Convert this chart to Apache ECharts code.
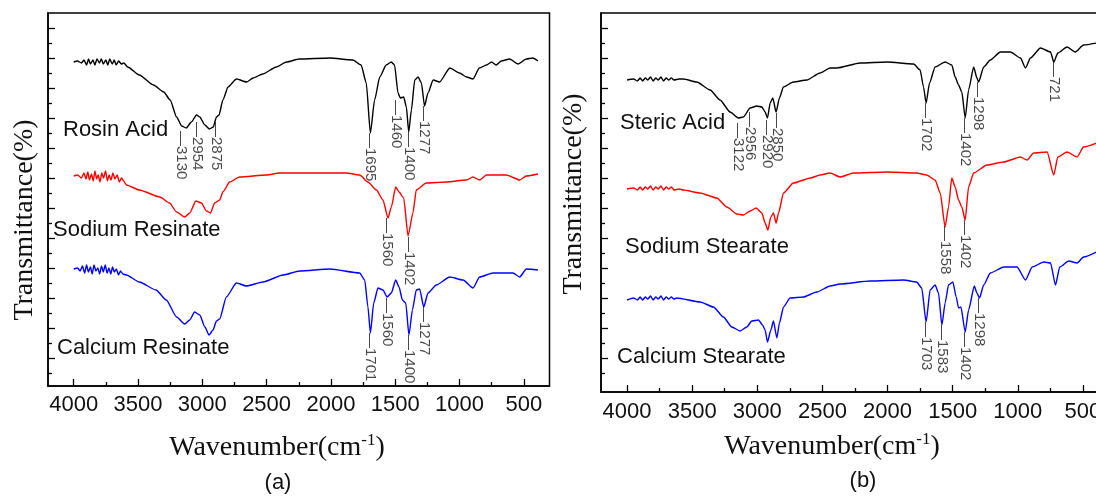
<!DOCTYPE html>
<html>
<head>
<meta charset="utf-8">
<script src="https://cdn.jsdelivr.net/npm/echarts@6/dist/echarts.min.js"></script>
<style>
html, body { margin: 0; padding: 0; background: #fff; }
#main { width: 1096px; height: 497px; }
</style>
</head>
<body>
<div id="main"></div>
<script>
// FTIR spectra, [wavenumber, transmittance (arb. offset units)]
// panel (a)
const rosinAcid = [[4000,324],[3970,325],[3940,323],[3920,326],[3900,321],[3885,327],[3870,322],[3850,326],[3835,321],[3820,327],[3800,323],[3785,327],[3770,322],[3750,326],[3735,321],[3720,327],[3700,322],[3685,326],[3670,321],[3650,325],[3630,322],[3610,323],
  [3580,319],[3490,311],[3380,301],[3300,294],[3250,286],[3200,269],[3160,260],[3125,258],[3085,264],[3045,271],[3020,269],[2980,261],[2945,257],[2915,259],[2890,269],[2870,271],[2840,286],[2800,299],[2735,307],[2655,304],[2605,308],[2530,312],[2425,319],[2345,324],[2245,327],[2010,328],[1830,326],[1765,321],[1725,303],[1693,253],[1660,286],[1620,309],[1570,321],[1530,324],[1505,321],[1478,293],[1460,288],[1434,289],[1413,279],[1395,254],[1374,276],[1348,306],[1322,309],[1296,303],[1272,280],[1245,293],[1205,306],[1155,304],[1075,318],[1000,313],[945,309],[895,307],[845,318],[790,321],[750,324],[715,321],[675,325],[610,327],[545,322],[480,327],[430,328],[390,325]];
const sodiumResinate = [[4000,210],[3970,211],[3940,208],[3920,213],[3905,207],[3890,214],[3878,206],[3862,212],[3848,205],[3835,215],[3822,207],[3810,211],[3795,204],[3782,213],[3768,208],[3752,215],[3738,205],[3725,211],[3710,206],[3695,213],[3680,207],[3662,211],[3645,204],[3628,208],[3612,205],
  [3590,201],[3490,196],[3330,189],[3255,183],[3200,174],[3137,169],[3098,173],[3050,185],[3007,183],[2968,175],[2937,173],[2904,183],[2865,186],[2840,194],[2787,204],[2710,209],[2500,211],[2400,213],[2245,213],[2140,213],[1880,213],[1776,211],[1712,204],[1646,196],[1595,186],[1556,168],[1530,179],[1496,199],[1470,194],[1434,188],[1400,150],[1362,173],[1336,196],[1258,203],[1103,204],[946,206],[895,209],[843,206],[791,211],[635,211],[532,206],[480,210],[390,212]];
const calciumResinate = [[4000,117],[3970,118],[3950,115],[3932,120],[3915,113],[3900,121],[3886,114],[3870,119],[3856,112],[3842,121],[3828,115],[3812,118],[3798,112],[3784,120],[3770,114],[3755,121],[3740,113],[3726,118],[3712,112],[3698,119],[3684,114],[3668,117],[3652,111],[3636,115],[3618,112],
  [3590,111],[3490,104],[3360,96],[3280,86],[3200,69],[3137,62],[3098,66],[3060,74],[3020,71],[2980,59],[2948,51],[2917,56],[2890,65],[2865,67],[2813,89],[2735,103],[2657,100],[2528,104],[2372,111],[2243,115],[2009,117],[1776,113],[1737,106],[1712,79],[1693,53],[1667,83],[1634,98],[1595,96],[1563,89],[1530,93],[1496,106],[1470,99],[1444,86],[1418,83],[1393,51],[1366,76],[1336,96],[1310,97],[1278,79],[1245,93],[1180,101],[1076,109],[972,106],[895,98],[843,109],[739,113],[584,113],[532,109],[480,117],[390,116]];
const peaksA = [[3163,255,'3130'],[3038,264,'2954'],[2890,264,'2875'],[1693,253,'1695'],[1491,286,'1460'],[1393,254,'1400'],[1271,280,'1277'],
  [1564,168,'1560'],[1393,149,'1402'],
  [1693,53,'1701'],[1564,88,'1560'],[1393,51,'1400'],[1278,79,'1277']];

// panel (b)
const stericAcid = [[4000,312],[3950,313],[3920,311],[3900,314],[3880,311],[3860,314],[3840,312],[3820,315],[3800,311],[3780,314],[3760,312],[3740,315],[3720,311],[3700,314],[3680,312],[3660,314],[3640,312],[3600,313],
  [3568,313],[3465,310],[3362,302],[3286,292],[3209,280],[3145,274],[3107,275],[3055,284],[3004,286],[2965,285],[2940,280],[2922,274],[2901,289],[2881,294],[2856,280],[2830,294],[2800,305],[2723,310],[2620,312],[2518,319],[2441,324],[2390,324],[2210,329],[2005,330],[1800,328],[1750,322],[1724,305],[1704,289],[1678,309],[1635,325],[1558,330],[1507,327],[1481,315],[1455,307],[1430,300],[1404,274],[1378,302],[1339,325],[1314,314],[1301,310],[1262,325],[1211,332],[1134,340],[1057,340],[980,334],[941,324],[903,334],[826,344],[749,340],[724,330],[693,339],[622,345],[559,340],[495,347],[396,349]];
const sodiumStearate = [[4000,203],[3950,204],[3920,202],[3900,205],[3880,202],[3860,205],[3840,203],[3820,206],[3800,202],[3780,205],[3760,203],[3740,206],[3720,202],[3700,205],[3680,203],[3660,205],[3640,202],[3600,203],
  [3568,202],[3439,199],[3311,194],[3234,185],[3157,178],[3107,177],[3055,181],[3009,184],[2965,179],[2940,169],[2919,162],[2896,175],[2876,179],[2856,169],[2837,179],[2799,199],[2723,209],[2592,214],[2518,217],[2441,219],[2364,215],[2262,219],[2005,220],[1777,219],[1700,217],[1635,212],[1596,199],[1558,165],[1532,185],[1507,214],[1481,205],[1455,192],[1430,185],[1404,172],[1378,205],[1339,219],[1237,227],[1108,230],[980,235],[929,232],[878,239],[775,240],[724,217],[693,235],[622,240],[545,235],[495,245],[396,249]];
const calciumStearate = [[4000,92],[3950,94],[3920,92],[3900,95],[3880,92],[3860,95],[3840,93],[3820,96],[3800,92],[3780,95],[3760,93],[3740,96],[3720,92],[3700,95],[3680,93],[3660,95],[3640,93],
  [3618,94],[3439,90],[3337,85],[3260,75],[3196,65],[3132,61],[3081,65],[3042,71],[2991,72],[2960,67],[2940,62],[2922,50],[2896,62],[2876,71],[2850,54],[2830,69],[2799,85],[2748,94],[2646,95],[2543,100],[2441,106],[2364,108],[2133,111],[1877,112],[1777,110],[1738,104],[1704,70],[1673,102],[1635,107],[1609,99],[1583,67],[1558,89],[1532,107],[1499,110],[1473,95],[1455,84],[1437,85],[1404,60],[1378,82],[1334,106],[1314,99],[1294,94],[1262,107],[1211,119],[1108,125],[1006,125],[941,112],[890,125],[800,130],[749,129],[711,107],[678,125],[609,131],[545,129],[495,135],[396,140]];
const peaksB = [[3145,269,'3122'],[3055,280,'2956'],[2922,272,'2920'],[2850,279,'2850'],[1704,289,'1702'],[1404,274,'1402'],[1302,310,'1298'],[724,330,'721'],
  [1558,166,'1558'],[1404,172,'1402'],
  [1704,70,'1703'],[1583,67,'1583'],[1404,60,'1402'],[1294,94,'1298']];

// ticks
const xMajorTicks = [4000, 3500, 3000, 2500, 2000, 1500, 1000, 500];
const xMinorTicks = [3750, 3250, 2750, 2250, 1750, 1250, 750];
const yMajorTicksA = [28, 58, 88, 118, 148, 178, 208, 238, 268, 298, 328, 358];
const yMinorTicksA = [13, 43, 73, 103, 133, 163, 193, 223, 253, 283, 313, 343];
const yMajorTicksB = [34, 64, 94, 124, 154, 184, 214, 244, 274, 304, 334, 364];
const yMinorTicksB = [19, 49, 79, 109, 139, 169, 199, 229, 259, 289, 319, 349];

const SANS = 'Liberation Sans';
const SERIF = 'Liberation Serif';

function xAxes(grid, labelMargin) {
    return [
        {
            gridIndex: grid, type: 'value', position: 'bottom', min: 300, max: 4200, inverse: true,
            axisLine: { show: true, onZero: false, lineStyle: { color: '#000', width: 1.5 } },
            axisTick: { show: true, inside: true, length: 7, customValues: xMajorTicks, lineStyle: { color: '#000', width: 1.3 } },
            axisLabel: { customValues: xMajorTicks, formatter: v => String(v), fontSize: 22, fontFamily: SANS, color: '#111', margin: labelMargin },
            splitLine: { show: false }
        },
        {
            gridIndex: grid, type: 'value', position: 'bottom', min: 300, max: 4200, inverse: true,
            axisLine: { show: false },
            axisTick: { show: true, inside: true, length: 4, customValues: xMinorTicks, lineStyle: { color: '#000', width: 1.3 } },
            axisLabel: { show: false },
            splitLine: { show: false }
        }
    ];
}

function yAxes(grid, max, major, minor) {
    return [
        {
            gridIndex: grid, type: 'value', position: 'left', min: 0, max: max,
            axisLine: { show: true, onZero: false, lineStyle: { color: '#000', width: 1.5 } },
            axisTick: { show: true, inside: true, length: 7, customValues: major, lineStyle: { color: '#000', width: 1.3 } },
            axisLabel: { show: false },
            splitLine: { show: false }
        },
        {
            gridIndex: grid, type: 'value', position: 'left', min: 0, max: max,
            axisLine: { show: false },
            axisTick: { show: true, inside: true, length: 4, customValues: minor, lineStyle: { color: '#000', width: 1.3 } },
            axisLabel: { show: false },
            splitLine: { show: false }
        }
    ];
}

function spectrum(data, color, axis) {
    return {
        type: 'line', data: data, xAxisIndex: axis, yAxisIndex: axis,
        showSymbol: false, smooth: 0.2, smoothMonotone: 'x',
        lineStyle: { color: color, width: 1.4 }, silent: true
    };
}

function peakLabels(data, axis) {
    return {
        type: 'scatter', data: data, xAxisIndex: axis, yAxisIndex: axis,
        symbolSize: 0, silent: true, z: 5,
        label: {
            show: true, position: 'inside', rotate: -90, align: 'left', verticalAlign: 'middle',
            formatter: p => '\u2014' + p.data[2],
            fontSize: 15, fontFamily: SANS, color: '#1a1a1a'
        }
    };
}

function txt(x, y, text, font, align, rotation) {
    return {
        type: 'text', x: x, y: y, rotation: rotation || 0, silent: true,
        style: { text: text, font: font, fill: '#111', align: align || 'left', verticalAlign: 'middle' }
    };
}

function xName(x, y) {
    return {
        type: 'text', x: x, y: y, silent: true,
        style: {
            text: '{n|Wavenumber(cm}{s|-1}{n|)}', align: 'center', verticalAlign: 'middle', fill: '#111',
            rich: {
                n: { fontFamily: SERIF, fontSize: 28, fill: '#111' },
                s: { fontFamily: SERIF, fontSize: 17, fill: '#111', verticalAlign: 'top', padding: [0, 0, 14, 0] }
            }
        }
    };
}

const chart = echarts.init(document.getElementById('main'));
chart.setOption({
    animation: false,
    backgroundColor: '#fff',
    grid: [
        { left: 48, top: 13, width: 501.5, height: 373, show: true, borderColor: '#000', borderWidth: 1.5, containLabel: false, outerBoundsMode: 'none' },
        { left: 601, top: 13, width: 508, height: 379, show: true, borderColor: '#000', borderWidth: 1.5, containLabel: false, outerBoundsMode: 'none' }
    ],
    xAxis: [].concat(xAxes(0, 8), xAxes(1, 9)),
    yAxis: [].concat(yAxes(0, 373, yMajorTicksA, yMinorTicksA), yAxes(1, 379, yMajorTicksB, yMinorTicksB)),
    series: [
        spectrum(rosinAcid, '#000', 0),
        spectrum(sodiumResinate, '#ff0000', 0),
        spectrum(calciumResinate, '#0000ff', 0),
        peakLabels(peaksA, 0),
        spectrum(stericAcid, '#000', 2),
        spectrum(sodiumStearate, '#ff0000', 2),
        spectrum(calciumStearate, '#0000ff', 2),
        peakLabels(peaksB, 2)
    ],
    graphic: [
        txt(63, 130, 'Rosin Acid', '22px ' + SANS),
        txt(53, 230, 'Sodium Resinate', '22px ' + SANS),
        txt(57, 348, 'Calcium Resinate', '22px ' + SANS),
        txt(620, 123, 'Steric Acid', '22px ' + SANS),
        txt(625, 247, 'Sodium Stearate', '22px ' + SANS),
        txt(617, 357, 'Calcium Stearate', '22px ' + SANS),
        txt(25, 220, 'Transmittance(%)', '28px ' + SERIF, 'center', Math.PI / 2),
        txt(574, 194, 'Transmittance(%)', '28px ' + SERIF, 'center', Math.PI / 2),
        xName(277, 448),
        xName(832, 447),
        txt(278, 483, '(a)', '22px ' + SANS, 'center'),
        txt(863, 481, '(b)', '22px ' + SANS, 'center')
    ]
});
</script>
</body>
</html>
